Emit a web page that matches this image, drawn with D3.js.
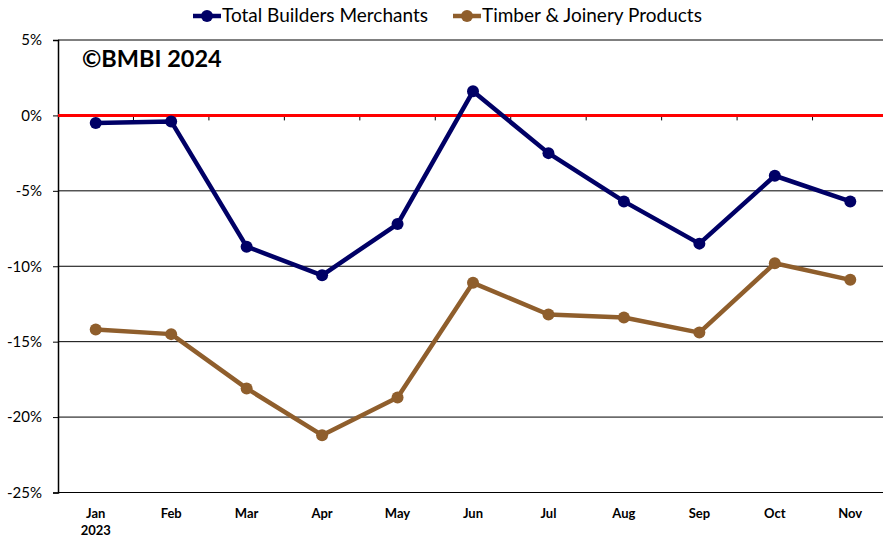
<!doctype html>
<html lang="en">
<head>
<meta charset="utf-8">
<title>BMBI</title>
<style>
  html, body { margin: 0; padding: 0; background: #fff; overflow: hidden; }
  svg { display: block; font-family: Lato, "Open Sans", sans-serif; }
</style>
</head>
<body>
<svg id="chart" width="883" height="537"></svg>
<script src="https://cdn.jsdelivr.net/npm/d3@7"></script>
<script>
const months = ["Jan", "Feb", "Mar", "Apr", "May", "Jun", "Jul", "Aug", "Sep", "Oct", "Nov"];
const totalBM = [-0.5, -0.4, -8.7, -10.6, -7.2, 1.6, -2.5, -5.7, -8.5, -4.0, -5.7];
const timber = [-14.2, -14.5, -18.1, -21.2, -18.7, -11.1, -13.2, -13.4, -14.4, -9.8, -10.9];
const yTicks = [5, 0, -5, -10, -15, -20, -25];

const series = [
    { name: "Total Builders Merchants", values: totalBM, color: "#000066" },
    { name: "Timber & Joinery Products", values: timber, color: "#8f5e2c" }
];

const svg = d3.select("#chart");
const plotLeft = 58, plotRight = 888, plotTop = 40, plotBottom = 492.5;

const x = d3.scaleBand().domain(months).range([plotLeft, plotRight]);
const y = d3.scaleLinear().domain([-25, 5]).range([plotBottom, plotTop]);

// gridlines
svg.append("g")
    .selectAll("line")
    .data(yTicks.filter(d => d !== 0))
    .join("line")
    .attr("x1", plotLeft).attr("x2", plotRight)
    .attr("y1", d => y(d)).attr("y2", d => y(d))
    .attr("stroke", "#000").attr("stroke-width", 1);

// y axis
const yAxis = svg.append("g")
    .attr("transform", `translate(${plotLeft},0)`)
    .call(d3.axisLeft(y).tickValues(yTicks).tickFormat(d => d + "%").tickSize(5).tickPadding(11));
yAxis.select(".domain").attr("stroke", "#000").attr("stroke-width", 1.5);
yAxis.selectAll("text").attr("font-size", 15).attr("fill", "#000")
    .attr("font-family", "Lato, sans-serif");

// category ticks on the zero line
svg.append("g")
    .selectAll("line")
    .data(months.slice(1))
    .join("line")
    .attr("x1", d => x(d)).attr("x2", d => x(d))
    .attr("y1", y(0)).attr("y2", y(0) + 5)
    .attr("stroke", "#000").attr("stroke-width", 1);

// zero line
svg.append("line")
    .attr("x1", plotLeft).attr("x2", plotRight)
    .attr("y1", y(0)).attr("y2", y(0))
    .attr("stroke", "#ff0000").attr("stroke-width", 3);

// month labels
svg.append("g")
    .selectAll("text")
    .data(months)
    .join("text")
    .attr("x", d => x(d) + x.bandwidth() / 2)
    .attr("y", 518)
    .attr("text-anchor", "middle")
    .attr("font-size", 13).attr("font-weight", "bold")
    .text(d => d);
svg.append("text")
    .attr("x", x("Jan") + x.bandwidth() / 2)
    .attr("y", 535)
    .attr("text-anchor", "middle")
    .attr("font-size", 13).attr("font-weight", "bold")
    .text("2023");

// watermark
svg.append("text")
    .attr("x", 82).attr("y", 67)
    .attr("font-size", 23.5).attr("font-weight", "bold")
    .text("©BMBI 2024");

// lines
const line = d3.line()
    .x((d, i) => x(months[i]) + x.bandwidth() / 2)
    .y(d => y(d));

series.forEach(s => {
    svg.append("path")
        .datum(s.values)
        .attr("d", line)
        .attr("fill", "none")
        .attr("stroke", s.color)
        .attr("stroke-width", 4.5)
        .attr("stroke-linejoin", "round");
    svg.append("g")
        .selectAll("circle")
        .data(s.values)
        .join("circle")
        .attr("cx", (d, i) => x(months[i]) + x.bandwidth() / 2)
        .attr("cy", d => y(d))
        .attr("r", 6)
        .attr("fill", s.color);
});

// legend
const legendX = [193, 453];
const legend = svg.append("g")
    .selectAll("g")
    .data(series)
    .join("g")
    .attr("transform", (d, i) => `translate(${legendX[i]},16)`);
legend.append("line")
    .attr("x1", 0).attr("x2", 28)
    .attr("stroke", d => d.color).attr("stroke-width", 4.5);
legend.append("circle")
    .attr("cx", 14).attr("r", 6)
    .attr("fill", d => d.color);
legend.append("text")
    .attr("x", 29).attr("y", 6)
    .attr("font-size", 19)
    .text(d => d.name);
</script>
</body>
</html>
